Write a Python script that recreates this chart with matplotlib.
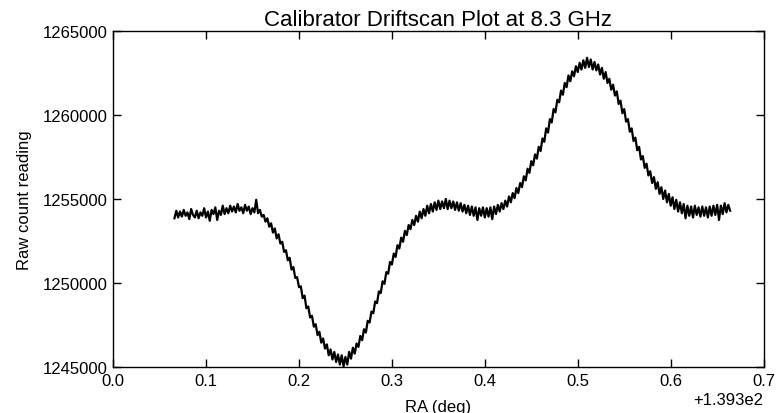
import numpy as np
import matplotlib
matplotlib.use("Agg")
import matplotlib.pyplot as plt
from matplotlib.ticker import ScalarFormatter, MultipleLocator

# RA samples (deg): first sample and spacing of the drift scan
ra_start = 139.366
ra_step = 0.002

# raw counts, one per RA sample
counts = [
    1253850, 1254300, 1253900, 1254250, 1253950, 1254350, 1254000, 1254200, 1253800, 1254400,
    1254050, 1253900, 1254300, 1253850, 1254200, 1254000, 1254450, 1253900, 1254250, 1253700,
    1254350, 1254100, 1254500, 1253750, 1254300, 1254050, 1254600, 1254100,
    1254450, 1254150, 1254600, 1254250, 1254550, 1254200, 1254700, 1254300, 1254500, 1254150,
    1254650, 1254300, 1254550, 1254100, 1254450, 1254200, 1254950, 1254150, 1254350, 1253950,
    1254050, 1253650, 1253850, 1253350, 1253550, 1253000, 1253250, 1252650, 1252900, 1252350,
    1252450, 1251850, 1251950, 1251350, 1251500, 1250800, 1250950, 1250300, 1250350, 1249750,
    1249800, 1249100, 1249250, 1248500, 1248600, 1247950, 1248050, 1247400, 1247550, 1246900,
    1247100, 1246450, 1246700, 1246100, 1246350, 1245700, 1246050, 1245450, 1245900, 1245300,
    1245750, 1245150, 1245700, 1245050, 1245600, 1245150, 1245900, 1245500, 1246150, 1245800,
    1246400, 1246200, 1246850, 1246600, 1247250, 1247050, 1247750, 1247650, 1248300, 1248200,
    1248900, 1248800, 1249500, 1249400, 1250100, 1249950, 1250650, 1250550, 1251250, 1251100,
    1251750, 1251550, 1252250, 1252050, 1252700, 1252450, 1253100, 1252850, 1253450, 1253200,
    1253750, 1253450, 1254000, 1253650, 1254250, 1253850, 1254400, 1254000, 1254600, 1254150,
    1254700, 1254250, 1254800, 1254350, 1254900, 1254400, 1254850, 1254450, 1255000, 1254400,
    1254900, 1254450, 1254850, 1254350, 1254800, 1254300, 1254750, 1254250, 1254650, 1254150,
    1254600, 1254050, 1254550, 1254000, 1254500, 1253750, 1254450, 1254000, 1254500, 1253900,
    1254450, 1253950, 1254500, 1253800, 1254550, 1254100, 1254650, 1254250, 1254750, 1254400,
    1254900, 1254550, 1255150, 1254800, 1255350, 1255050, 1255650, 1255350, 1255950, 1255700,
    1256350, 1256100, 1256800, 1256550, 1257250, 1257000, 1257650, 1257400, 1258100, 1257850,
    1258600, 1258400, 1259200, 1258950, 1259750, 1259550, 1260350, 1260150, 1260900, 1260750,
    1261450, 1261200, 1261900, 1261650, 1262350, 1262000, 1262600, 1262300, 1262900, 1262550,
    1263100, 1262700, 1263250, 1262800, 1263400, 1262850, 1263300, 1262700, 1263150, 1262650,
    1263000, 1262400, 1262800, 1262150, 1262550, 1261900, 1262150, 1261500, 1261800, 1261150,
    1261400, 1260650, 1260850, 1260100, 1260350, 1259600, 1259750, 1259000, 1259200, 1258450,
    1258650, 1257900, 1258100, 1257350, 1257550, 1256850, 1257100, 1256400, 1256650, 1255950,
    1256300, 1255600, 1256000, 1255300, 1255700, 1255000, 1255500, 1254800, 1255300, 1254600,
    1255100, 1254400, 1254950, 1254250, 1254800, 1254150, 1254700, 1253850, 1254600, 1254000,
    1254550, 1253900, 1254600, 1254050, 1254500, 1253950, 1254550, 1254000, 1254500, 1253900,
    1254550, 1254000, 1254600, 1254050, 1254650, 1253750, 1254600, 1254100, 1254750, 1254200,
    1254650, 1254300,
]

ra = ra_start + ra_step * np.arange(len(counts))

plt.rcParams["font.family"] = ["Liberation Sans", "DejaVu Sans"]

fig = plt.figure(figsize=(7.8, 4.14), dpi=100)
ax = fig.add_axes([0.145, 0.111, 0.834, 0.812])

ax.plot(ra, counts, color="black", linewidth=1.6)

ax.set_xlim(139.3, 140.0)
ax.set_ylim(1245000, 1265000)
ax.xaxis.set_major_locator(MultipleLocator(0.1))
ax.yaxis.set_major_locator(MultipleLocator(5000))
ax.xaxis.set_major_formatter(ScalarFormatter(useOffset=139.3))
yfmt = ScalarFormatter(useOffset=False)
yfmt.set_scientific(False)
ax.yaxis.set_major_formatter(yfmt)
ax.xaxis.get_offset_text().set_fontsize(12)

ax.tick_params(direction="in", top=True, right=True, length=6, width=1,
               labelsize=12, pad=4)
for s in ax.spines.values():
    s.set_linewidth(1.0)

ax.set_title("Calibrator Driftscan Plot at 8.3 GHz", fontsize=16, pad=4)
ax.set_xlabel("RA (deg)", fontsize=12, labelpad=8)
ax.set_ylabel("Raw count reading", fontsize=12, labelpad=8)

fig.savefig("out.png", dpi=100)
